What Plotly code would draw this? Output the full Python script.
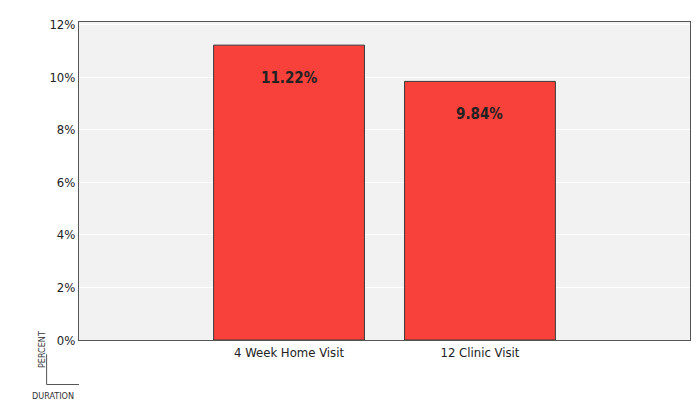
import plotly.graph_objects as go

categories = ["4 Week Home Visit", "12 Clinic Visit"]
values = [11.22, 9.84]
labels = ["11.22%", "9.84%"]
y_ticks = [0, 2, 4, 6, 8, 10, 12]

fnt = "DejaVu Sans Condensed, Liberation Sans Narrow, sans-serif"

fig = go.Figure()
fig.add_trace(go.Bar(x=categories, y=values, width=0.79,
                     marker=dict(color="#f8413a", line=dict(color="#3a3a3a", width=1))))

for c, v, t in zip(categories, values, labels):
    fig.add_annotation(x=c, y=v, text="<b>" + t + "</b>", showarrow=False,
                       yshift=-33, font=dict(size=15, color="#222"))

# little axis key, bottom left
fig.add_shape(type="line", xref="paper", yref="paper", x0=-0.053, x1=-0.053, y0=-0.045, y1=-0.14,
              line=dict(color="#555", width=1))
fig.add_shape(type="line", xref="paper", yref="paper", x0=-0.053, x1=0.0, y0=-0.14, y1=-0.14,
              line=dict(color="#555", width=1))
fig.add_annotation(xref="paper", yref="paper", x=-0.073, y=-0.095, text="PERCENT", textangle=-90,
                   showarrow=False, font=dict(size=9, color="#333"))
fig.add_annotation(xref="paper", yref="paper", x=-0.08, y=-0.155, text="DURATION", xanchor="left",
                   yanchor="top", showarrow=False, font=dict(size=9, color="#333"))

fig.update_xaxes(range=[-1.1, 2.1], showline=True, linecolor="#555", mirror=True,
                 tickfont=dict(size=13, color="#222"), ticks="", showgrid=False)
fig.update_yaxes(range=[0, 12.1], tickvals=y_ticks, ticktext=[f"{t}%" for t in y_ticks],
                 showline=True, linecolor="#555", mirror=True, gridcolor="#ffffff",
                 zeroline=False, tickfont=dict(size=13, color="#222"))
fig.update_layout(width=700, height=420, plot_bgcolor="#f2f2f2", paper_bgcolor="white",
                  font=dict(family=fnt), showlegend=False,
                  margin=dict(l=71, r=18, t=14, b=88, autoexpand=False))
fig.write_html("out.html")
